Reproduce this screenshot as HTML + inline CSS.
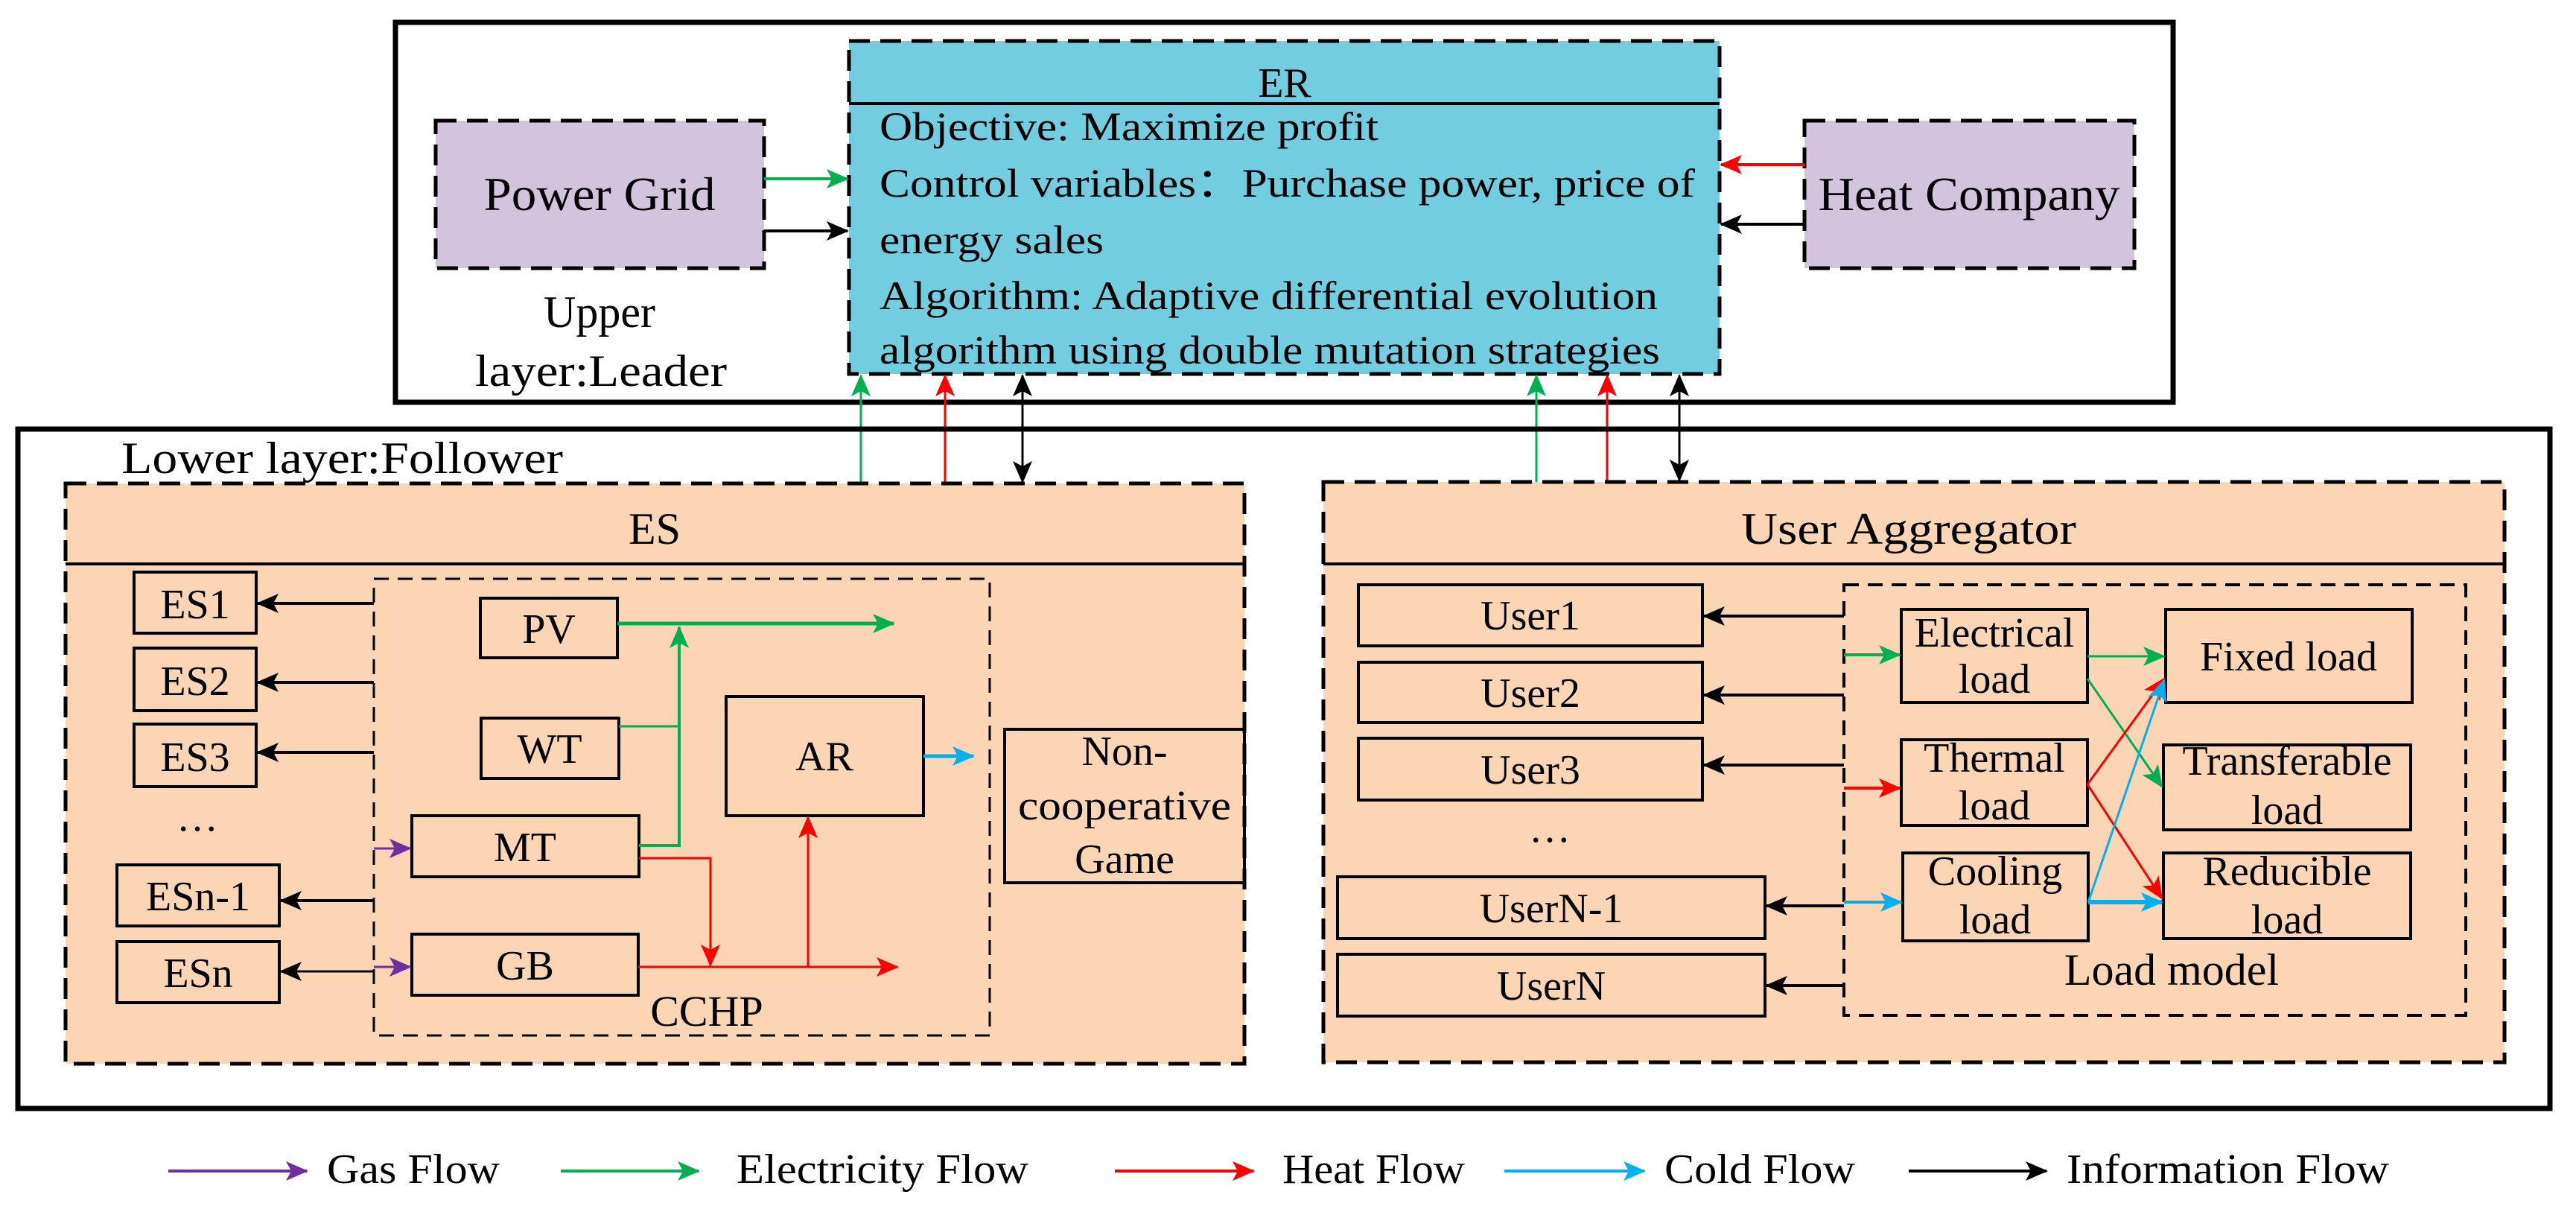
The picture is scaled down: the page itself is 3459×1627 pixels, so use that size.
<!DOCTYPE html>
<html><head><meta charset="utf-8"><style>html,body{margin:0;padding:0;background:#fff}svg{display:block}text{font-family:"Liberation Serif",serif;fill:#000}</style></head>
<body>
<svg width="3459" height="1627" viewBox="0 0 3459 1627" xmlns="http://www.w3.org/2000/svg">
<defs>
<marker id="mk" markerUnits="userSpaceOnUse" markerWidth="30" markerHeight="26" refX="28" refY="13" orient="auto-start-reverse"><path d="M0,0 L30,13 L0,26 L7,13 Z" fill="#000"/></marker>
<marker id="mg" markerUnits="userSpaceOnUse" markerWidth="30" markerHeight="26" refX="28" refY="13" orient="auto-start-reverse"><path d="M0,0 L30,13 L0,26 L7,13 Z" fill="#00B050"/></marker>
<marker id="mr" markerUnits="userSpaceOnUse" markerWidth="30" markerHeight="26" refX="28" refY="13" orient="auto-start-reverse"><path d="M0,0 L30,13 L0,26 L7,13 Z" fill="#FF0000"/></marker>
<marker id="mc" markerUnits="userSpaceOnUse" markerWidth="30" markerHeight="26" refX="28" refY="13" orient="auto-start-reverse"><path d="M0,0 L30,13 L0,26 L7,13 Z" fill="#00B0F0"/></marker>
<marker id="mp" markerUnits="userSpaceOnUse" markerWidth="30" markerHeight="26" refX="28" refY="13" orient="auto-start-reverse"><path d="M0,0 L30,13 L0,26 L7,13 Z" fill="#7030A0"/></marker>
</defs>

<!-- upper layer -->
<rect x="531" y="30" width="2387" height="510" fill="none" stroke="#000" stroke-width="7"/>
<rect x="1140" y="55" width="1169" height="447" fill="#71CDDF" stroke="#000" stroke-width="5" stroke-dasharray="28,14"/>
<line x1="1140" y1="139" x2="2309" y2="139" stroke="#000" stroke-width="4"/>
<text x="1725" y="130" font-size="56" text-anchor="middle">ER</text>
<text x="1181" y="188" font-size="54" textLength="670" lengthAdjust="spacingAndGlyphs">Objective: Maximize profit</text>
<text x="1181" y="264" font-size="54" textLength="1095" lengthAdjust="spacingAndGlyphs">Control variables：Purchase power, price of</text>
<text x="1181" y="340" font-size="54" textLength="301" lengthAdjust="spacingAndGlyphs">energy sales</text>
<text x="1181" y="415" font-size="54" textLength="1045" lengthAdjust="spacingAndGlyphs">Algorithm: Adaptive differential evolution</text>
<text x="1181" y="488" font-size="54" textLength="1048" lengthAdjust="spacingAndGlyphs">algorithm using double mutation strategies</text>

<rect x="585" y="162" width="441" height="198" fill="#D1C4DC" stroke="#000" stroke-width="5" stroke-dasharray="28,14"/>
<text x="805" y="282" font-size="64" text-anchor="middle" textLength="311" lengthAdjust="spacingAndGlyphs">Power Grid</text>
<text x="805" y="439" font-size="60" text-anchor="middle">Upper</text>
<text x="807" y="518" font-size="60" text-anchor="middle" textLength="338" lengthAdjust="spacingAndGlyphs">layer:Leader</text>
<line x1="1026" y1="240" x2="1138" y2="240" stroke="#00B050" stroke-width="4" marker-end="url(#mg)"/>
<line x1="1026" y1="310" x2="1138" y2="310" stroke="#000" stroke-width="4" marker-end="url(#mk)"/>

<rect x="2423" y="162" width="443" height="198" fill="#D1C4DC" stroke="#000" stroke-width="5" stroke-dasharray="28,14"/>
<text x="2644" y="282" font-size="64" text-anchor="middle" textLength="405" lengthAdjust="spacingAndGlyphs">Heat Company</text>
<line x1="2423" y1="221" x2="2311" y2="221" stroke="#FF0000" stroke-width="4" marker-end="url(#mr)"/>
<line x1="2423" y1="301" x2="2311" y2="301" stroke="#000" stroke-width="4" marker-end="url(#mk)"/>

<!-- vertical connectors -->
<line x1="1156" y1="649" x2="1156" y2="504" stroke="#00B050" stroke-width="3" marker-end="url(#mg)"/>
<line x1="1269" y1="649" x2="1269" y2="504" stroke="#FF0000" stroke-width="3" marker-end="url(#mr)"/>
<line x1="1373" y1="647" x2="1373" y2="504" stroke="#000" stroke-width="3" marker-start="url(#mk)" marker-end="url(#mk)"/>
<line x1="2063" y1="647" x2="2063" y2="504" stroke="#00B050" stroke-width="3" marker-end="url(#mg)"/>
<line x1="2158" y1="647" x2="2158" y2="504" stroke="#FF0000" stroke-width="3" marker-end="url(#mr)"/>
<line x1="2255" y1="645" x2="2255" y2="504" stroke="#000" stroke-width="3" marker-start="url(#mk)" marker-end="url(#mk)"/>

<!-- lower layer -->
<rect x="24" y="576" width="3400" height="912" fill="none" stroke="#000" stroke-width="7"/>
<text x="163" y="635" font-size="60" textLength="593" lengthAdjust="spacingAndGlyphs">Lower layer:Follower</text>

<!-- ES -->
<rect x="88" y="649" width="1583" height="779" fill="#FCD5B5" stroke="#000" stroke-width="5" stroke-dasharray="28,14"/>
<line x1="88" y1="757" x2="1671" y2="757" stroke="#000" stroke-width="4"/>
<text x="879" y="730" font-size="60" text-anchor="middle">ES</text>
<rect x="502" y="777" width="827" height="613" fill="none" stroke="#000" stroke-width="3" stroke-dasharray="20,12"/>
<text x="949" y="1377" font-size="58" text-anchor="middle">CCHP</text>

<g fill="none" stroke="#000" stroke-width="4">
<rect x="180" y="768" width="164" height="82"/>
<rect x="180" y="870" width="164" height="84"/>
<rect x="180" y="972" width="164" height="84"/>
<rect x="157" y="1161" width="218" height="82"/>
<rect x="157" y="1264" width="218" height="82"/>
<rect x="645" y="803" width="184" height="80"/>
<rect x="646" y="964" width="185" height="81"/>
<rect x="553" y="1095" width="305" height="82"/>
<rect x="553" y="1254" width="304" height="82"/>
<rect x="975" y="935" width="265" height="160"/>
<rect x="1349" y="979" width="322" height="206"/>
</g>
<g font-size="56" text-anchor="middle">
<text x="262" y="830">ES1</text>
<text x="262" y="933">ES2</text>
<text x="262" y="1035">ES3</text>
<text x="265" y="1115">…</text>
<text x="266" y="1222">ESn-1</text>
<text x="266" y="1325">ESn</text>
<text x="737" y="863">PV</text>
<text x="738" y="1024">WT</text>
<text x="705" y="1156">MT</text>
<text x="705" y="1315">GB</text>
<text x="1107" y="1034">AR</text>
<text x="1510" y="1027">Non-</text>
<text x="1510" y="1100" textLength="286" lengthAdjust="spacingAndGlyphs">cooperative</text>
<text x="1510" y="1172">Game</text>
</g>
<g stroke="#000" stroke-width="4" fill="none">
<line x1="502" y1="810" x2="346" y2="810" marker-end="url(#mk)"/>
<line x1="502" y1="916" x2="346" y2="916" marker-end="url(#mk)"/>
<line x1="502" y1="1010" x2="346" y2="1010" marker-end="url(#mk)"/>
<line x1="502" y1="1209" x2="377" y2="1209" marker-end="url(#mk)"/>
<line x1="502" y1="1304" x2="377" y2="1304" stroke-width="3" marker-end="url(#mk)"/>
</g>
<line x1="502" y1="1139" x2="551" y2="1139" stroke="#7030A0" stroke-width="3" marker-end="url(#mp)"/>
<line x1="502" y1="1298" x2="551" y2="1298" stroke="#7030A0" stroke-width="3" marker-end="url(#mp)"/>
<!-- electricity -->
<line x1="829" y1="837" x2="1200" y2="837" stroke="#00B050" stroke-width="5" marker-end="url(#mg)"/>
<polyline points="858,1135 912,1135 912,842" fill="none" stroke="#00B050" stroke-width="4" marker-end="url(#mg)"/>
<line x1="831" y1="975" x2="912" y2="975" stroke="#00B050" stroke-width="3"/>
<!-- heat -->
<polyline points="858,1152 954,1152 954,1296" fill="none" stroke="#FF0000" stroke-width="3" marker-end="url(#mr)"/>
<line x1="857" y1="1298" x2="1205" y2="1298" stroke="#FF0000" stroke-width="3" marker-end="url(#mr)"/>
<line x1="1085" y1="1298" x2="1085" y2="1097" stroke="#FF0000" stroke-width="3" marker-end="url(#mr)"/>
<line x1="1240" y1="1015" x2="1307" y2="1015" stroke="#00B0F0" stroke-width="5" marker-end="url(#mc)"/>

<!-- User Aggregator -->
<rect x="1777" y="647" width="1586" height="779" fill="#FCD5B5" stroke="#000" stroke-width="5" stroke-dasharray="28,14"/>
<line x1="1777" y1="757" x2="3363" y2="757" stroke="#000" stroke-width="4"/>
<text x="2563" y="730" font-size="60" text-anchor="middle" textLength="450" lengthAdjust="spacingAndGlyphs">User Aggregator</text>
<rect x="2476" y="785" width="835" height="578" fill="none" stroke="#000" stroke-width="4" stroke-dasharray="20,12"/>
<text x="2916" y="1322" font-size="60" text-anchor="middle">Load model</text>
<g fill="none" stroke="#000" stroke-width="4">
<rect x="1824" y="785" width="462" height="82"/>
<rect x="1824" y="889" width="462" height="81"/>
<rect x="1824" y="991" width="462" height="83"/>
<rect x="1796" y="1177" width="574" height="83"/>
<rect x="1796" y="1281" width="574" height="83"/>
<rect x="2553" y="818" width="250" height="125"/>
<rect x="2553" y="993" width="250" height="115"/>
<rect x="2555" y="1145" width="249" height="118"/>
<rect x="2908" y="818" width="331" height="125"/>
<rect x="2905" y="1000" width="332" height="114"/>
<rect x="2905" y="1145" width="332" height="115"/>
</g>
<g font-size="56" text-anchor="middle">
<text x="2055" y="845">User1</text>
<text x="2055" y="949">User2</text>
<text x="2055" y="1052">User3</text>
<text x="2081" y="1130">…</text>
<text x="2083" y="1238">UserN-1</text>
<text x="2083" y="1342">UserN</text>
<text x="2678" y="868">Electrical</text>
<text x="2678" y="930">load</text>
<text x="2678" y="1036">Thermal</text>
<text x="2678" y="1100">load</text>
<text x="2679" y="1188">Cooling</text>
<text x="2679" y="1253">load</text>
<text x="3073" y="900">Fixed load</text>
<text x="3071" y="1040">Transferable</text>
<text x="3071" y="1106">load</text>
<text x="3071" y="1188">Reducible</text>
<text x="3071" y="1253">load</text>
</g>
<g stroke="#000" stroke-width="4">
<line x1="2476" y1="827" x2="2288" y2="827" marker-end="url(#mk)"/>
<line x1="2476" y1="933" x2="2288" y2="933" marker-end="url(#mk)"/>
<line x1="2476" y1="1027" x2="2288" y2="1027" marker-end="url(#mk)"/>
<line x1="2476" y1="1216" x2="2372" y2="1216" marker-end="url(#mk)"/>
<line x1="2476" y1="1323" x2="2372" y2="1323" marker-end="url(#mk)"/>
</g>
<line x1="2476" y1="879" x2="2551" y2="879" stroke="#00B050" stroke-width="4" marker-end="url(#mg)"/>
<line x1="2476" y1="1058" x2="2551" y2="1058" stroke="#FF0000" stroke-width="4" marker-end="url(#mr)"/>
<line x1="2476" y1="1211" x2="2553" y2="1211" stroke="#00B0F0" stroke-width="4" marker-end="url(#mc)"/>
<line x1="2803" y1="881" x2="2906" y2="881" stroke="#00B050" stroke-width="3" marker-end="url(#mg)"/>
<line x1="2803" y1="911" x2="2903" y2="1056" stroke="#00B050" stroke-width="3" marker-end="url(#mg)"/>
<line x1="2803" y1="1053" x2="2906" y2="911" stroke="#FF0000" stroke-width="3" marker-end="url(#mr)"/>
<line x1="2803" y1="1053" x2="2903" y2="1206" stroke="#FF0000" stroke-width="3" marker-end="url(#mr)"/>
<line x1="2804" y1="1211" x2="2906" y2="913" stroke="#00B0F0" stroke-width="3" marker-end="url(#mc)"/>
<line x1="2804" y1="1211" x2="2903" y2="1211" stroke="#00B0F0" stroke-width="6" marker-end="url(#mc)"/>

<!-- legend -->
<line x1="226" y1="1572" x2="412" y2="1572" stroke="#7030A0" stroke-width="4" marker-end="url(#mp)"/>
<text x="439" y="1588" font-size="56" textLength="232" lengthAdjust="spacingAndGlyphs">Gas Flow</text>
<line x1="753" y1="1572" x2="938" y2="1572" stroke="#00B050" stroke-width="4" marker-end="url(#mg)"/>
<text x="989" y="1588" font-size="56" textLength="392" lengthAdjust="spacingAndGlyphs">Electricity Flow</text>
<line x1="1497" y1="1572" x2="1683" y2="1572" stroke="#FF0000" stroke-width="4" marker-end="url(#mr)"/>
<text x="1722" y="1588" font-size="56" textLength="245" lengthAdjust="spacingAndGlyphs">Heat Flow</text>
<line x1="2020" y1="1572" x2="2208" y2="1572" stroke="#00B0F0" stroke-width="4" marker-end="url(#mc)"/>
<text x="2235" y="1588" font-size="56" textLength="256" lengthAdjust="spacingAndGlyphs">Cold Flow</text>
<line x1="2563" y1="1572" x2="2748" y2="1572" stroke="#000" stroke-width="4" marker-end="url(#mk)"/>
<text x="2775" y="1588" font-size="56" textLength="433" lengthAdjust="spacingAndGlyphs">Information Flow</text>
</svg>
</body></html>
